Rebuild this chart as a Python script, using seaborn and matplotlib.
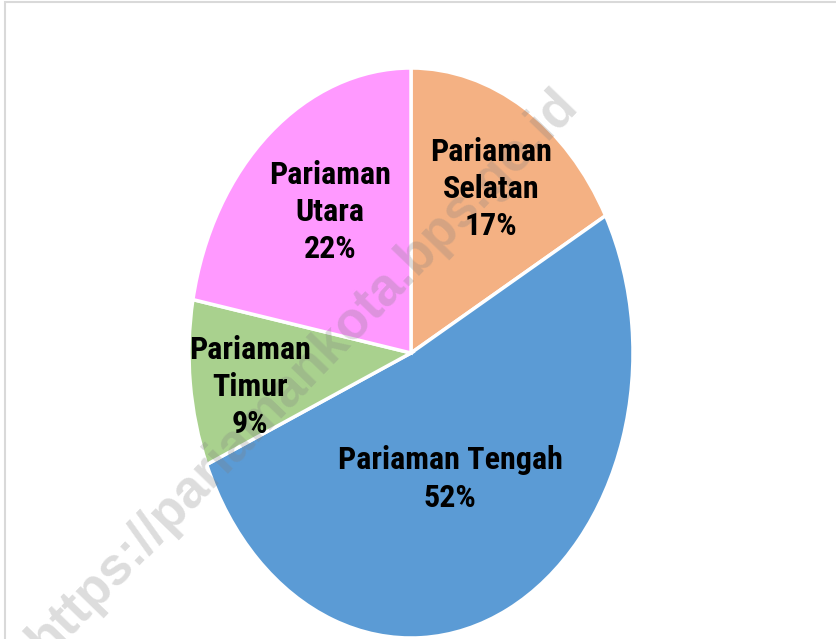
import matplotlib
matplotlib.use('Agg')
import matplotlib.pyplot as plt
import seaborn as sns
from matplotlib.patches import Rectangle
import numpy as np

# ---- data ----
regions = ['Pariaman\nSelatan', 'Pariaman Tengah', 'Pariaman\nTimur', 'Pariaman\nUtara']
shares = [17.0, 51.6, 9.4, 22.0]
pct_labels = ['17%', '52%', '9%', '22%']

# ---- style ----
colors = ['#F4B183', '#5B9BD5', '#A9D18E', '#FF99FF']
label_radius = [0.68, 0.476, 0.735, 0.615]
label_angle_shift = [-1.5, -4.2, 3.2, -3.2]

sns.set_theme(style='white')
plt.rcParams['font.family'] = ['Roboto Condensed', 'Liberation Sans', 'DejaVu Sans']

fig = plt.figure(figsize=(8.37, 6.39), dpi=100)
fig.patch.set_facecolor('white')
ax = fig.add_axes([189 / 837, 1 - 638 / 639, 444 / 837, 570 / 639])
wedges, _ = ax.pie(shares, colors=colors, startangle=90, counterclock=False, radius=1,
                   wedgeprops=dict(edgecolor='white', linewidth=2.5))
ax.set_aspect('auto')
ax.set_xlim(-1, 1)
ax.set_ylim(-1, 1)
ax.axis('off')

for w, name, pct, r, dth in zip(wedges, regions, pct_labels, label_radius, label_angle_shift):
    th = np.deg2rad((w.theta1 + w.theta2) / 2 + dth)
    ax.text(r * np.cos(th), r * np.sin(th), f'{name}\n{pct}', ha='center', va='center',
            fontsize=23, fontweight='bold', linespacing=1.3, color='black', zorder=5)

# watermark
ax.text(0.362, 0.417, 'https://pariamankota.bps.go.id', transform=fig.transFigure,
        rotation=46, ha='center', va='center', fontsize=38, fontweight='bold',
        family=['Liberation Sans', 'DejaVu Sans'], color='gray', alpha=0.27,
        zorder=3, clip_on=False)

# frame
fig.patches.append(Rectangle((5 / 837, -0.1), 1.2, 1 - 2 / 639 + 0.1, transform=fig.transFigure,
                             fill=False, edgecolor='#d9d9d9', linewidth=1.5))

fig.savefig('out.png', dpi=100, facecolor='white')
